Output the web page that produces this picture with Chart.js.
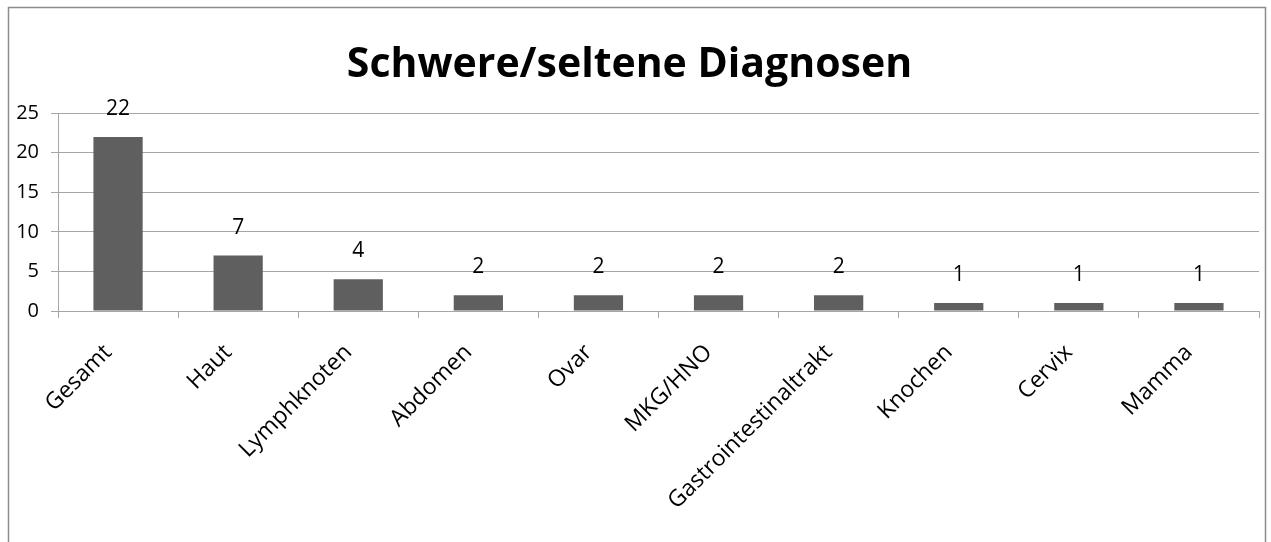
<!DOCTYPE html>
<html>
<head>
<meta charset="utf-8">
<script src="https://cdn.jsdelivr.net/npm/chart.js@4/dist/chart.umd.min.js"></script>
<style>
  html, body { margin: 0; padding: 0; background: #ffffff; }
  #wrap { position: relative; width: 1271px; height: 542px; }
</style>
</head>
<body>
<div id="wrap"><canvas id="c" width="1271" height="542"></canvas></div>
<script>
const categories = ['Gesamt', 'Haut', 'Lymphknoten', 'Abdomen', 'Ovar', 'MKG/HNO', 'Gastrointestinaltrakt', 'Knochen', 'Cervix', 'Mamma'];
const counts = [22, 7, 4, 2, 2, 2, 2, 1, 1, 1];
const yTicks = [0, 5, 10, 15, 20, 25];

const FONT = '"Open Sans", sans-serif';

// frame around the whole chart (left, top and right edges)
const framePlugin = {
  id: 'frame',
  beforeDraw(chart) {
    const ctx = chart.ctx;
    ctx.save();
    ctx.strokeStyle = '#8c8c8c';
    ctx.lineWidth = 1.5;
    ctx.beginPath();
    ctx.moveTo(8.5, 560);
    ctx.lineTo(8.5, 7.5);
    ctx.lineTo(1265.5, 7.5);
    ctx.lineTo(1265.5, 560);
    ctx.stroke();
    ctx.restore();
  }
};

// value printed above every bar
const valueLabels = {
  id: 'valueLabels',
  afterDatasetsDraw(chart) {
    const ctx = chart.ctx;
    const meta = chart.getDatasetMeta(0);
    ctx.save();
    ctx.font = '21px ' + FONT;
    ctx.fillStyle = '#000000';
    ctx.textAlign = 'center';
    ctx.textBaseline = 'alphabetic';
    meta.data.forEach((bar, i) => {
      ctx.fillText(String(counts[i]), bar.x, bar.y - 22);
    });
    ctx.restore();
  }
};

new Chart(document.getElementById('c'), {
  type: 'bar',
  data: {
    labels: categories,
    datasets: [{
      data: counts,
      backgroundColor: '#5f5f5f',
      borderWidth: 0,
      barPercentage: 0.41,
      categoryPercentage: 1.0
    }]
  },
  options: {
    responsive: false,
    animation: false,
    events: [],
    layout: { padding: { left: 0, right: 12, top: 0, bottom: 0 } },
    plugins: {
      legend: { display: false },
      tooltip: { enabled: false },
      title: {
        display: true,
        text: 'Schwere/seltene Diagnosen',
        color: '#000000',
        font: { family: FONT, size: 41, weight: 'bold', lineHeight: 1.2 },
        padding: { top: 41, bottom: 23 }
      }
    },
    scales: {
      x: {
        grid: {
          drawOnChartArea: false,
          drawTicks: true,
          tickLength: 7,
          color: '#a6a6a6',
          offset: true
        },
        border: { color: '#a6a6a6', width: 1 },
        ticks: {
          color: '#000000',
          font: { family: FONT, size: 23 },
          minRotation: 45,
          maxRotation: 45,
          padding: 21,
          labelOffset: -10,
          autoSkip: false
        },
        afterFit(scale) { scale.height = 231; }
      },
      y: {
        min: 0,
        max: 25,
        afterBuildTicks(scale) { scale.ticks = yTicks.map(v => ({ value: v })); },
        grid: {
          color: '#a6a6a6',
          tickLength: 7,
          drawTicks: true
        },
        border: { color: '#a6a6a6', width: 1 },
        ticks: {
          color: '#000000',
          font: { family: FONT, size: 20 },
          padding: 12
        },
        afterFit(scale) { scale.width = 58; }
      }
    }
  },
  plugins: [framePlugin, valueLabels]
});
</script>
</body>
</html>
